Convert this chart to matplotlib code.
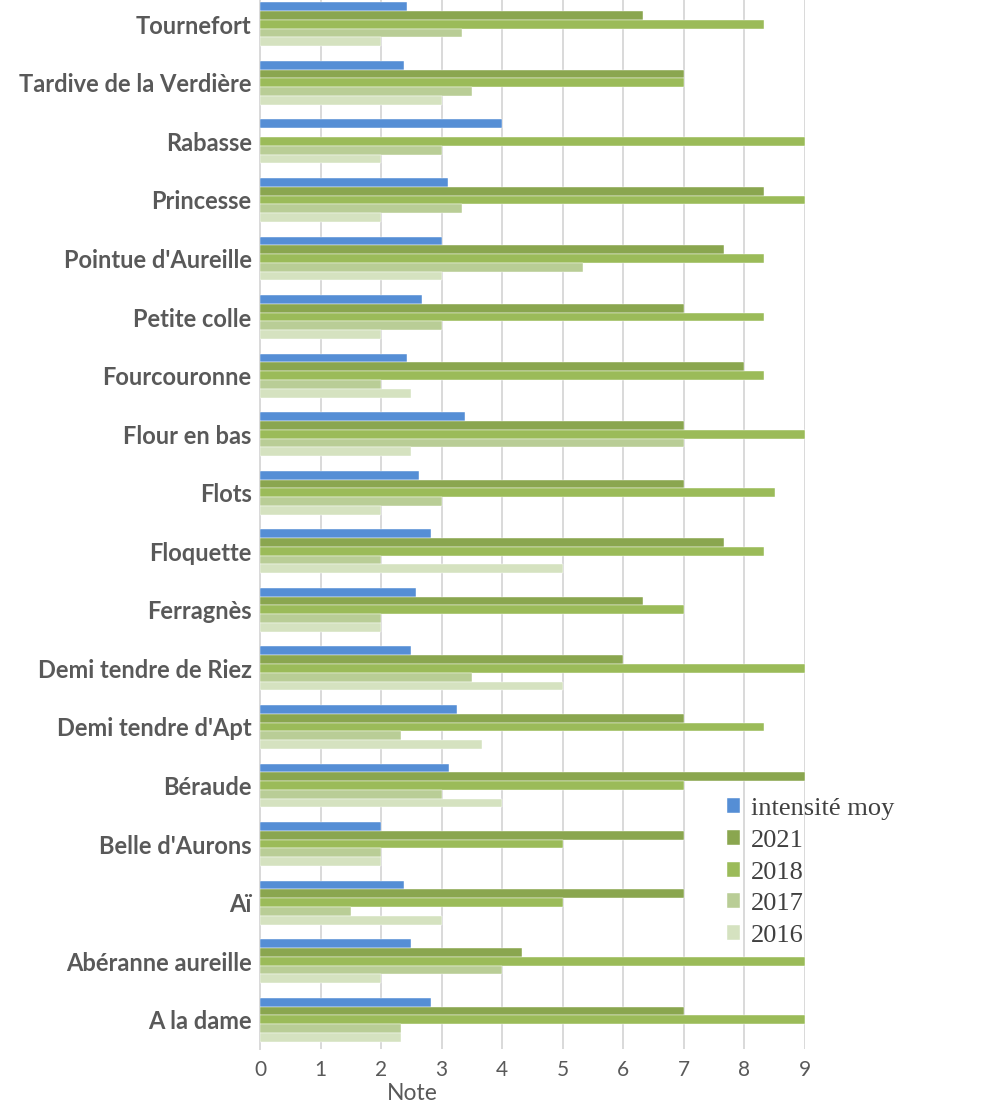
import matplotlib.pyplot as plt
import numpy as np

# varietes, de haut en bas dans le graphique
varietes = ["Tournefort", "Tardive de la Verdière", "Rabasse", "Princesse",
            "Pointue d'Aureille", "Petite colle", "Fourcouronne", "Flour en bas",
            "Flots", "Floquette", "Ferragnès", "Demi tendre de Riez",
            "Demi tendre d'Apt", "Béraude", "Belle d'Aurons", "Aï",
            "Abéranne aureille", "A la dame"]

intensite_moy = [2.42, 2.37, 4.0, 3.1, 3.0, 2.67, 2.42, 3.38, 2.62, 2.82,
                 2.57, 2.5, 3.25, 3.12, 2.0, 2.37, 2.5, 2.82]
note_2021 = [6.33, 7.0, 0, 8.33, 7.67, 7.0, 8.0, 7.0, 7.0, 7.67,
             6.33, 6.0, 7.0, 9.0, 7.0, 7.0, 4.33, 7.0]
note_2018 = [8.33, 7.0, 9.0, 9.0, 8.33, 8.33, 8.33, 9.0, 8.5, 8.33,
             7.0, 9.0, 8.33, 7.0, 5.0, 5.0, 9.0, 9.0]
note_2017 = [3.33, 3.5, 3.0, 3.33, 5.33, 3.0, 2.0, 7.0, 3.0, 2.0,
             2.0, 3.5, 2.33, 3.0, 2.0, 1.5, 4.0, 2.33]
note_2016 = [2.0, 3.0, 2.0, 2.0, 3.0, 2.0, 2.5, 2.5, 2.0, 5.0,
             2.0, 5.0, 3.67, 4.0, 2.0, 3.0, 2.0, 2.33]

series = [
    ("intensité moy", intensite_moy, "#558ED5"),
    ("2021", note_2021, "#8AA64F"),
    ("2018", note_2018, "#9BBB59"),
    ("2017", note_2017, "#B9CD96"),
    ("2016", note_2016, "#D5E2C0"),
]

fig = plt.figure(figsize=(9.97, 11.08), dpi=100)
ax = fig.add_axes([260 / 997, 1 - 1049 / 1108, 545 / 997, 1054 / 1108])

n = len(varietes)
y = np.arange(n)[::-1]  # Tournefort en haut
h = 0.15
for i, (nom, vals, col) in enumerate(series):
    offs = (2 - i) * h
    ax.barh(y + offs, vals, height=h, color=col, label=nom,
            edgecolor="white", linewidth=0.3, zorder=3)

ax.set_xlim(0, 9)
ax.set_ylim(-0.5, n - 0.5)
ax.set_xticks(range(10))
ax.set_yticks(y)
ax.set_yticklabels(varietes, fontsize=17, fontweight="bold",
                   color="#595959", family="Lato")
ax.tick_params(axis="y", length=0, pad=6)
ax.tick_params(axis="x", length=0, pad=8, labelsize=15, labelcolor="#595959")
for lab in ax.get_xticklabels():
    lab.set_family("Lato")
ax.set_xlabel("Note", fontsize=16.5, color="#595959", family="Lato")
ax.xaxis.set_label_coords((412 - 260) / 545, -34 / 1054)

ax.grid(axis="x", color="#D9D9D9", linewidth=1.4, zorder=0)
for s in ["top", "right", "bottom"]:
    ax.spines[s].set_visible(False)
ax.spines["left"].set_color("#D9D9D9")
ax.spines["left"].set_linewidth(1.4)

leg = fig.legend(loc="upper left", bbox_to_anchor=(727 / 997, 1 - 798 / 1108),
                 frameon=False, borderpad=0, borderaxespad=0,
                 handlelength=0.5, handleheight=0.5,
                 handletextpad=0.4, labelspacing=0.37,
                 prop={"family": "Liberation Serif", "size": 19})
for t in leg.get_texts():
    t.set_color("#404040")

fig.savefig("out.png", dpi=100)
